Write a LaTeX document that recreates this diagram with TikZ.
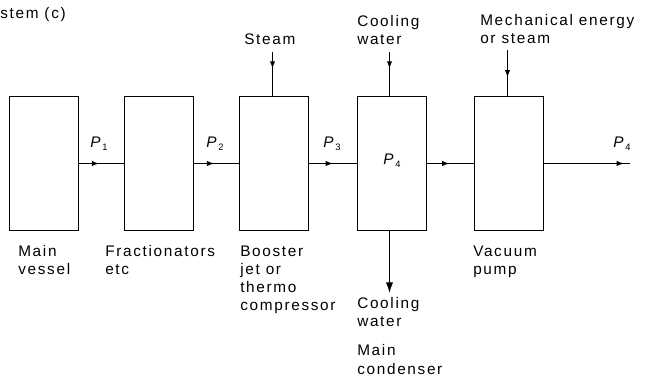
\documentclass[tikz,border=0pt]{standalone}
\usepackage{fontspec}
\setmainfont{Liberation Sans}[LetterSpace=11]
\usetikzlibrary{decorations.markings,arrows.meta}
\begin{document}
\begin{tikzpicture}[x=0.75pt,y=-0.75pt,
  every node/.style={font=\fontsize{11.5}{13.5}\selectfont},
  unit/.style={draw, line width=0.9pt, minimum width=51.75pt, minimum height=100.5pt, inner sep=0pt},
  conn/.style={line width=0.9pt},
  midarrow/.style={decoration={markings, mark=at position #1 with {\arrow{Latex[length=5.5pt,width=4pt]}}}, postaction={decorate}},
  lbl/.style={anchor=base west, align=left, inner sep=0pt},
  plbl/.style={anchor=base, inner sep=0pt}
]
\useasboundingbox (0,0) rectangle (653,377);
% boxes
\node[unit] (b1) at (44,163.5) {};
\node[unit] (b2) at (159,163.5) {};
\node[unit] (b3) at (274,163.5) {};
\node[unit] (b4) at (392,163.5) {};
\node[unit] (b5) at (509,163.5) {};
% free ends
\coordinate (out) at (630,163.5);
\coordinate (steamin) at (272.5,52);
\coordinate (cwin) at (389.5,52);
\coordinate (mechin) at (507.5,50);
\coordinate (cwout) at (389.5,293);
% connectors
\draw[conn, midarrow=0.45] (b1.east) -- (b2.west);
\draw[conn, midarrow=0.45] (b2.east) -- (b3.west);
\draw[conn, midarrow=0.5] (b3.east) -- (b4.west);
\draw[conn, midarrow=0.48] (b4.east) -- (b5.west);
\draw[conn, midarrow=0.93] (b5.east) -- (out);
\draw[conn, midarrow=0.38] (steamin) -- (steamin |- b3.north);
\draw[conn, midarrow=0.38] (cwin) -- (cwin |- b4.north);
\draw[conn, midarrow=0.6] (mechin) -- (mechin |- b5.north);
\draw[conn, -{Latex[length=8pt,width=5.5pt]}] (cwout |- b4.south) -- (cwout);
% pressure labels
\node[plbl] (p1) at (99,148) {\textit{P}\raisebox{-0.35ex}{\scriptsize 1}};
\node[plbl] (p2) at (215,148) {\textit{P}\raisebox{-0.35ex}{\scriptsize 2}};
\node[plbl] (p3) at (332,148) {\textit{P}\raisebox{-0.35ex}{\scriptsize 3}};
\node[plbl] (p4) at (392,165) {\textit{P}\raisebox{-0.35ex}{\scriptsize 4}};
\node[plbl] (p5) at (622,148) {\textit{P}\raisebox{-0.35ex}{\scriptsize 4}};
% text labels (anchor is baseline of the last line)
\node[lbl] (title) at (0,19) {stem (c)};
\node[lbl] (steam) at (244,45) {Steam};
\node[lbl] (cwtop) at (357,45) {Cooling\\water};
\node[lbl] (mech) at (480,44) {Mechanical energy\\or steam};
\node[lbl] (t1) at (18,275) {Main\\vessel};
\node[lbl] (t2) at (105,275) {Fractionators\\etc};
\node[lbl] (t3) at (240,311) {Booster\\jet or\\thermo\\compressor};
\node[lbl] (t4) at (357,327) {Cooling\\water};
\node[lbl] (t5) at (357,374) {Main\\condenser};
\node[lbl] (t6) at (473,275) {Vacuum\\pump};
\end{tikzpicture}
\end{document}
